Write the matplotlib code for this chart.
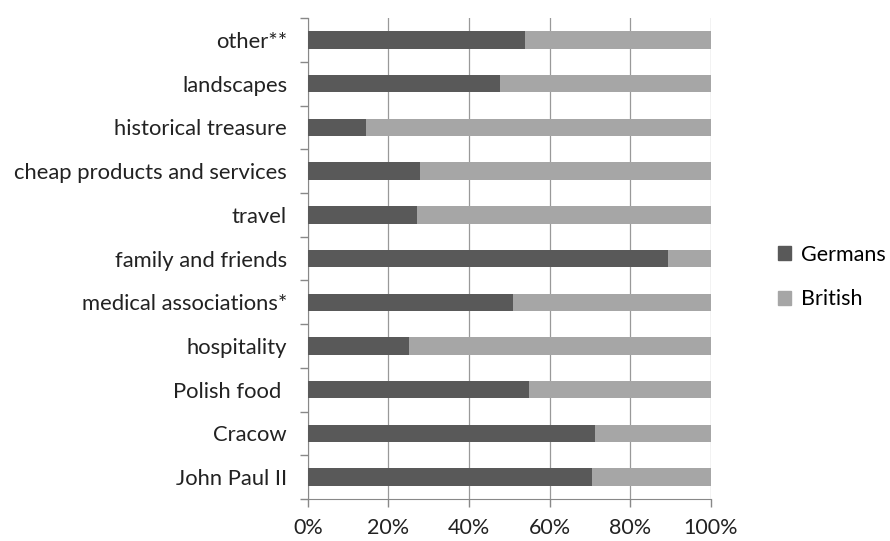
import numpy as np
import matplotlib.pyplot as plt
from matplotlib.patches import Patch

# categories from bottom to top
categories = ["John Paul II", "Cracow", "Polish food ", "hospitality",
              "medical associations*", "family and friends", "travel",
              "cheap products and services", "historical treasure",
              "landscapes", "other**"]
germans = [70.5, 71.4, 54.9, 25.2, 51.0, 89.3, 27.2, 27.8, 14.4, 47.6, 53.9]
british = [100 - g for g in germans]
xticks = [0, 20, 40, 60, 80, 100]
xticklabels = ["0%", "20%", "40%", "60%", "80%", "100%"]

plt.rcParams['font.family'] = ['Lato', 'DejaVu Sans']

fig = plt.figure(figsize=(8.9, 5.41), dpi=100)
ax = fig.add_axes([0.346, 0.0776, 0.4525, 0.889])

y = np.arange(len(categories))
ax.barh(y, germans, height=0.4, color='#595959', label='Germans', zorder=3)
ax.barh(y, british, left=germans, height=0.4, color='#a6a6a6', label='British', zorder=3)

ax.set_xlim(0, 100)
ax.set_ylim(-0.5, len(categories) - 0.5)
ax.set_xticks(xticks)
ax.set_xticklabels(xticklabels, fontsize=15.5, color='#222222')
ax.set_yticks(y)
ax.set_yticklabels(categories, fontsize=15.8, color='#222222')
ax.tick_params(axis='y', length=0, pad=15)
ax.set_yticks(np.arange(-0.5, len(categories)), minor=True)
ax.tick_params(axis='y', which='minor', length=6, color='#888888', width=1)
ax.tick_params(axis='x', length=6, color='#888888', width=1, pad=8)

ax.grid(axis='x', color='#999999', linewidth=0.9, zorder=0)
for s in ['top', 'right']:
    ax.spines[s].set_visible(False)
for s in ['left', 'bottom']:
    ax.spines[s].set_color('#888888')

handles = [Patch(color='#595959', label='Germans'), Patch(color='#a6a6a6', label='British')]
fig.legend(handles=handles, loc='center left', bbox_to_anchor=(0.852, 0.488),
           frameon=False, fontsize=15.5, handlelength=0.6, handleheight=0.6,
           handletextpad=0.5, labelspacing=1.15)

plt.savefig('out.png', dpi=100)
